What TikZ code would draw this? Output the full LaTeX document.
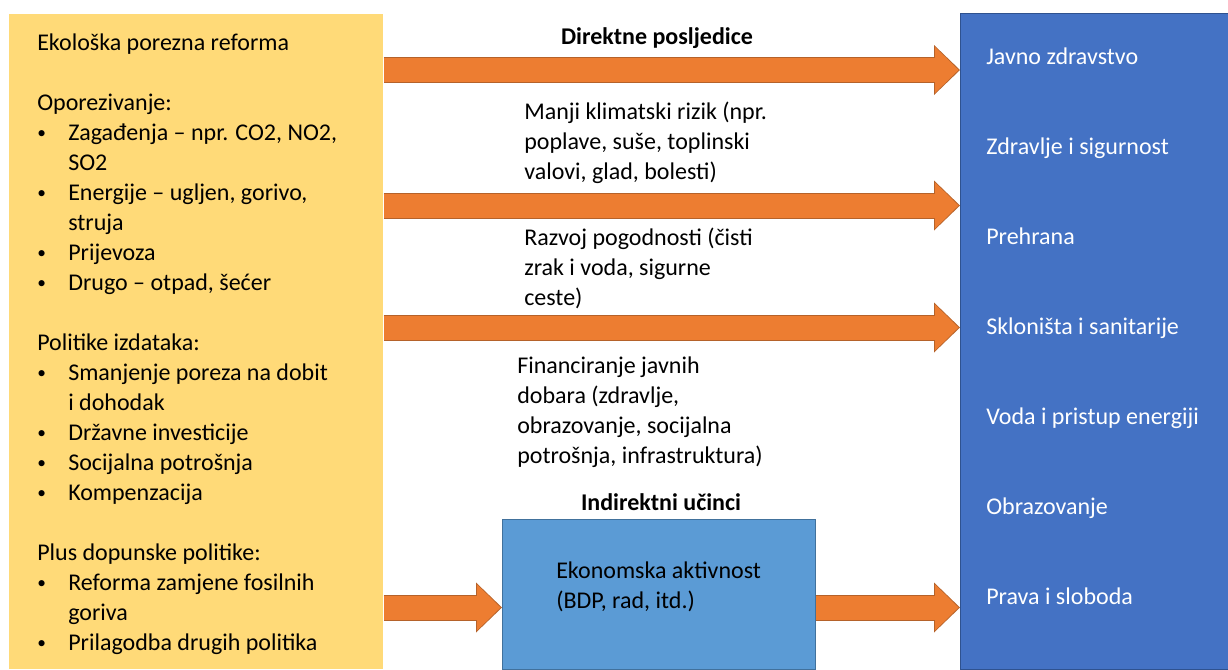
\documentclass[tikz,border=0pt]{standalone}
\usepackage{fontspec}
\setmainfont{Carlito}
\usetikzlibrary{arrows.meta, positioning}

\definecolor{taxyellow}{HTML}{FFDA78}
\definecolor{outblue}{HTML}{4472C4}
\definecolor{outline}{HTML}{2F528F}
\definecolor{midblue}{HTML}{5B9BD5}
\definecolor{midline}{HTML}{41719C}
\definecolor{flowfill}{HTML}{ED7D31}
\definecolor{flowline}{HTML}{B5622A}

\newcommand{\itm}{\makebox[23.25pt][l]{\raisebox{1.5pt}{\fontsize{13}{13}\selectfont\textbullet}}}
\newcommand{\ind}{\hspace*{23.25pt}}
% block arrow: darker edge first, then the orange body
\newcommand{\flowarrow}[2]{%
  \draw[flowedge] #1 -- #2;
  \draw[flowbody] #1 -- #2;}

\begin{document}
\begin{tikzpicture}[
        x=0.75pt, y=-0.75pt,
        every node/.style={font=\fontsize{18}{22.5}\selectfont, inner sep=0pt},
        panel/.style={rectangle, anchor=north west, inner sep=0pt},
        txt/.style={align=left, anchor=base west},
        head/.style={anchor=base, font=\fontsize{18}{22.5}\selectfont\bfseries},
        flowedge/.style={draw=flowline, line width=19.5pt, -{Triangle[length=19.5pt, width=37.5pt, line width=0pt]}},
        flowbody/.style={draw=flowfill, line width=18pt, shorten >=1.1pt, -{Triangle[length=17.6pt, width=34.5pt, line width=0pt]}}
    ]
    \useasboundingbox (0,0) rectangle (1228,669);

    \node (reform) [panel, fill=taxyellow, minimum width=280.5pt, minimum height=491.25pt] at (9,14) {};
    \node (outcome) [panel, fill=outblue, draw=outline, minimum width=201pt, minimum height=492pt] at (960,13) {};
    \node (econ) [panel, fill=midblue, draw=midline, minimum width=234.75pt, minimum height=112.5pt] at (502,519) {};

    % left panel text (placed at its last baseline)
    \node (reformtxt) [txt] at (37,650) {Ekološka porezna reforma\\[22.5pt]
        Oporezivanje:\\
        \itm Zagađenja – npr. CO2, NO2,\\
        \ind SO2\\
        \itm Energije – ugljen, gorivo,\\
        \ind struja\\
        \itm Prijevoza\\
        \itm Drugo – otpad, šećer\\[22.5pt]
        Politike izdataka:\\
        \itm Smanjenje poreza na dobit\\
        \ind i dohodak\\
        \itm Državne investicije\\
        \itm Socijalna potrošnja\\
        \itm Kompenzacija\\[22.5pt]
        Plus dopunske politike:\\
        \itm Reforma zamjene fosilnih\\
        \ind goriva\\
        \itm Prilagodba drugih politika};

    % right panel text
    \foreach \t [count=\i] in {Javno zdravstvo, Zdravlje i sigurnost, Prehrana, Skloništa i sanitarije, Voda i pristup energiji, Obrazovanje, Prava i sloboda}
        \node (out\i) [txt, text=white] at (986,{64+90*(\i-1)}) {\t};

    % middle labels
    \node (direct) [head] at (657,44) {Direktne posljedice};
    \node (indirect) [head] at (661,510) {Indirektni učinci};
    \node (climate) [txt] at (524,179) {Manji klimatski rizik (npr.\\poplave, suše, toplinski\\valovi, glad, bolesti)};
    \node (amenity) [txt] at (524,305) {Razvoj pogodnosti (čisti\\zrak i voda, sigurne\\ceste)};
    \node (public) [txt] at (517,463) {Financiranje javnih\\dobara (zdravlje,\\obrazovanje, socijalna\\potrošnja, infrastruktura)};
    \node (econtxt) [txt] at (556,608) {Ekonomska aktivnost\\(BDP, rad, itd.)};

    \flowarrow{(reform.east |- 0,70)}{(outcome.west |- 0,70)}
    \flowarrow{(reform.east |- 0,205.5)}{(outcome.west |- 0,205.5)}
    \flowarrow{(reform.east |- 0,327.5)}{(outcome.west |- 0,327.5)}
    \flowarrow{(reform.east |- 0,607.5)}{(econ.west |- 0,607.5)}
    \flowarrow{(econ.east |- 0,607.5)}{(outcome.west |- 0,607.5)}
\end{tikzpicture}
\end{document}
